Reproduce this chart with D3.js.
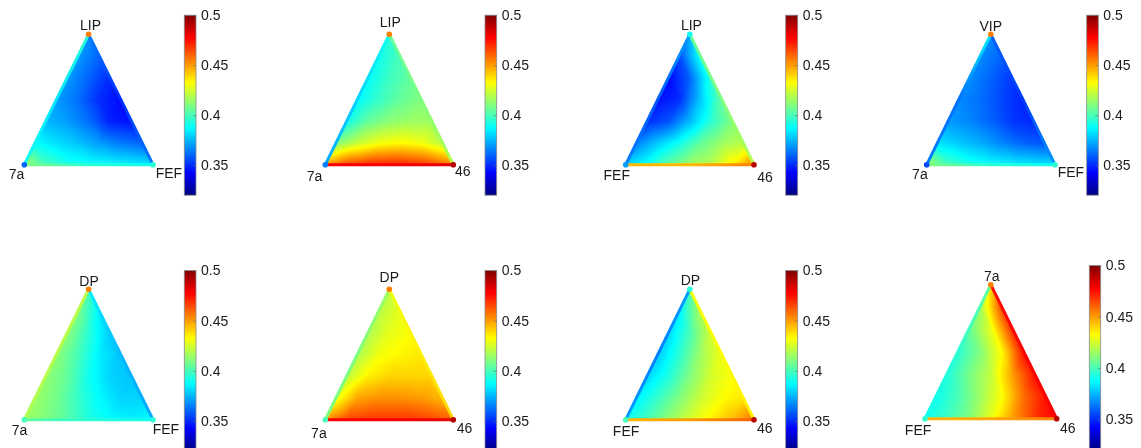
<!DOCTYPE html>
<html><head><meta charset="utf-8">
<script src="https://cdn.jsdelivr.net/npm/d3@7"></script>
<style>html,body{margin:0;padding:0;background:#fff;overflow:hidden}</style>
</head><body>
<div id="chart"></div>
<script>
// ---------------- DATA ----------------
const apexLabels  = ["LIP","LIP","LIP","VIP","DP","DP","DP","7a"];
const leftLabels  = ["7a","7a","FEF","7a","7a","7a","FEF","FEF"];
const rightLabels = ["FEF","46","46","FEF","FEF","46","46","46"];
const colorTicks  = [0.35, 0.4, 0.45, 0.5];
const colorDomain = [0.32, 0.5];
// vertex values: [apex, left, right]
const vertexValues = [
  [0.455,0.360,0.395],[0.455,0.365,0.490],[0.390,0.370,0.490],[0.455,0.355,0.395],
  [0.455,0.400,0.395],[0.455,0.400,0.490],[0.395,0.400,0.490],[0.455,0.395,0.490]
];
// edge values: left edge (left vertex -> apex), right edge (apex -> right vertex), base (left -> right)
const leftEdgeValues = [
  [0.390,0.383,0.395],[0.372,0.380,0.390],[0.365,0.358,0.370],[0.365,0.362,0.385],
  [0.418,0.420,0.420],[0.410,0.410,0.415],[0.370,0.365,0.370],[0.390,0.395,0.405]
];
const rightEdgeValues = [
  [0.365,0.350,0.365],[0.405,0.410,0.420],[0.405,0.410,0.420],[0.360,0.352,0.370],
  [0.385,0.375,0.372],[0.430,0.435,0.440],[0.430,0.432,0.435],[0.475,0.478,0.478]
];
const baseEdgeValues = [
  [0.410,0.395,0.390],[0.478,0.478,0.482],[0.445,0.445,0.455],[0.410,0.395,0.390],
  [0.405,0.395,0.390],[0.478,0.478,0.482],[0.445,0.450,0.460],[0.445,0.448,0.455]
];
// surface values, rows from apex (row 0) to base (row 6), left to right
const surfaceP1 = [
  [0.368],
  [0.370,0.360],
  [0.370,0.360,0.350],
  [0.370,0.362,0.350,0.344],
  [0.375,0.370,0.362,0.348,0.345],
  [0.388,0.382,0.377,0.370,0.364,0.360],
  [0.418,0.400,0.392,0.389,0.387,0.385,0.383]
];
const surfaceP2 = [
  [0.395],
  [0.390,0.400],
  [0.388,0.398,0.405],
  [0.387,0.397,0.405,0.410],
  [0.390,0.405,0.412,0.415,0.415],
  [0.410,0.422,0.430,0.433,0.430,0.420],
  [0.450,0.465,0.470,0.472,0.470,0.465,0.455]
];
const surfaceP3 = [
  [0.375],
  [0.355,0.390],
  [0.343,0.360,0.395],
  [0.345,0.350,0.378,0.405],
  [0.350,0.357,0.375,0.395,0.410],
  [0.365,0.378,0.390,0.405,0.415,0.420],
  [0.380,0.390,0.405,0.415,0.420,0.435,0.455]
];
const surfaceP4 = [
  [0.368],
  [0.367,0.360],
  [0.367,0.360,0.352],
  [0.367,0.362,0.355,0.349],
  [0.370,0.366,0.360,0.352,0.349],
  [0.383,0.378,0.373,0.366,0.360,0.357],
  [0.418,0.400,0.392,0.388,0.385,0.383,0.382]
];
const surfaceP5 = [
  [0.400],
  [0.410,0.385],
  [0.412,0.395,0.378],
  [0.412,0.400,0.385,0.377],
  [0.413,0.405,0.390,0.380,0.377],
  [0.415,0.408,0.397,0.387,0.380,0.380],
  [0.415,0.410,0.403,0.393,0.387,0.385,0.387]
];
const surfaceP6 = [
  [0.420],
  [0.420,0.428],
  [0.418,0.428,0.432],
  [0.418,0.430,0.434,0.436],
  [0.420,0.435,0.440,0.440,0.440],
  [0.428,0.448,0.452,0.452,0.450,0.445],
  [0.450,0.465,0.468,0.468,0.468,0.465,0.460]
];
const surfaceP7 = [
  [0.400],
  [0.385,0.418],
  [0.380,0.400,0.425],
  [0.378,0.395,0.415,0.430],
  [0.380,0.393,0.410,0.425,0.432],
  [0.385,0.397,0.410,0.423,0.432,0.437],
  [0.390,0.400,0.413,0.425,0.435,0.445,0.458]
];
const surfaceP8 = [
  [0.440],
  [0.415,0.465],
  [0.405,0.428,0.470],
  [0.395,0.410,0.433,0.475],
  [0.393,0.408,0.422,0.450,0.475],
  [0.390,0.400,0.415,0.432,0.458,0.475],
  [0.390,0.398,0.410,0.428,0.450,0.468,0.478]
];
const surfaces = [surfaceP1,surfaceP2,surfaceP3,surfaceP4,surfaceP5,surfaceP6,surfaceP7,surfaceP8];

// ---------------- LAYOUT ----------------
const W = 1141, H = 448;
const layout = [
  {ax:88.6, ay:34.3, lx:24.3, rx:153.0, by:164.7, cbx:184.3, cbw:11.7, cbTop:15.2, cbK:1000, t:[2,-4.8], l:[0,14.3], r:[2.7,13]},
  {ax:389.3,ay:34.3, lx:325.3,rx:453.3, by:164.7, cbx:485.0, cbw:11.7, cbTop:15.2, cbK:1000, t:[1,-7], l:[-3,16], r:[1.7,11]},
  {ax:689.8,ay:34.3, lx:625.7,rx:754.0, by:164.7, cbx:785.7, cbw:12.0, cbTop:15.2, cbK:1000, t:[1.6,-4.3], l:[4.3,15.3], r:[3.3,17]},
  {ax:990.8,ay:34.3, lx:926.7,rx:1055.0,by:164.7, cbx:1086.7,cbw:11.6, cbTop:15.2, cbK:1000, t:[0,-3.6], l:[1,14.3], r:[2.7,12]},
  {ax:88.6, ay:289.3,lx:24.3, rx:153.0, by:419.7, cbx:184.3, cbw:11.7, cbTop:270.5,cbK:1003, t:[0.5,-3.3], l:[3,15.3], r:[-0.3,14.6]},
  {ax:389.3,ay:289.3,lx:325.3,rx:453.3, by:419.7, cbx:485.0, cbw:11.7, cbTop:270.5,cbK:1003, t:[0,-7], l:[1.4,18.6], r:[3.4,13]},
  {ax:689.8,ay:289.3,lx:625.7,rx:754.0, by:419.7, cbx:785.7, cbw:12.0, cbTop:270.5,cbK:1003, t:[0.6,-4.3], l:[13.6,16.3], r:[3,13]},
  {ax:990.8,ay:284.7,lx:925.0,rx:1056.7,by:418.7, cbx:1089.3,cbw:11.4, cbTop:265.5,cbK:1026, t:[1,-4], l:[6.3,16.3], r:[3.3,14.6]}
];

// ---------------- COLOR ----------------
const tStops = [0, 1/8, 3/8, 5/8, 7/8, 1];
const jetColors = ["#000080","#0000ff","#00ffff","#ffff00","#ff0000","#800000"];
const color = d3.scaleLinear()
  .domain(tStops.map(t => colorDomain[0] + t*(colorDomain[1]-colorDomain[0])))
  .range(jetColors).interpolate(d3.interpolateRgb).clamp(true);

const N = 6;
function sample(g, u, s) {
  let i0 = Math.min(Math.floor(u), N-1); const fu = u - i0;
  let j0 = Math.min(Math.floor(s), i0); let fs = s - j0;
  if (fs < 0) fs = 0;
  const v00 = g[i0][j0], v10 = g[i0+1][j0], v11 = g[i0+1][j0+1];
  if (fs <= fu || j0 + 1 > i0) {
    return v00 + fu*(v10 - v00) + Math.min(fs,fu)*(v11 - v10);
  }
  const v01 = g[i0][j0+1];
  return v00 + fs*(v01 - v00) + fu*(v11 - v01);
}

// ---------------- DRAW ----------------
const container = d3.select("#chart").style("position","relative").style("width",W+"px").style("height",H+"px");
const canvas = container.append("canvas").attr("width",W).attr("height",H)
  .style("position","absolute").style("left","0px").style("top","0px");
const svg = container.append("svg").attr("width",W).attr("height",H)
  .style("position","absolute").style("left","0px").style("top","0px");

const ctx = canvas.node().getContext("2d");
ctx.fillStyle = "#fff"; ctx.fillRect(0,0,W,H);
const img = ctx.getImageData(0,0,W,H);
const cache = new Map();
function rgbOf(v) {
  const k = Math.round(v*4000);
  if (!cache.has(k)) { const c = d3.rgb(color(k/4000)); cache.set(k,[c.r,c.g,c.b]); }
  return cache.get(k);
}

layout.forEach((L, p) => {
  const g = surfaces[p];
  const x0 = Math.floor(Math.min(L.lx, L.ax)), x1 = Math.ceil(Math.max(L.rx, L.ax));
  const y0 = Math.floor(L.ay), y1 = Math.ceil(L.by);
  for (let y = y0; y <= y1; y++) {
    const py = y + 0.5;
    const f = (py - L.ay) / (L.by - L.ay);
    if (f < 0 || f > 1) continue;
    const lxp = L.ax + (L.lx - L.ax)*f, rxp = L.ax + (L.rx - L.ax)*f;
    const u = f*N;
    for (let x = x0; x <= x1; x++) {
      const px = x + 0.5;
      if (px < lxp || px > rxp) continue;
      const s = rxp > lxp ? (px - lxp)/(rxp - lxp)*u : 0;
      const c = rgbOf(sample(g, u, s));
      const idx = (y*W + x)*4;
      img.data[idx] = c[0]; img.data[idx+1] = c[1]; img.data[idx+2] = c[2]; img.data[idx+3] = 255;
    }
  }
});
ctx.putImageData(img, 0, 0);

const defs = svg.append("defs");
// colorbar gradient
const cbGrad = defs.append("linearGradient").attr("id","jetbar")
  .attr("x1",0).attr("y1",1).attr("x2",0).attr("y2",0);
d3.range(0, 65).forEach(k => {
  const t = k/64;
  cbGrad.append("stop").attr("offset", t)
    .attr("stop-color", color(colorDomain[0] + t*(colorDomain[1]-colorDomain[0])));
});

const textColor = "#1a1a1a";
const font = "'Liberation Sans', Arial, Helvetica, sans-serif";

layout.forEach((L, p) => {
  const gp = svg.append("g");
  const A = [L.ax, L.ay], Lv = [L.lx, L.by], R = [L.rx, L.by];
  const edges = [
    {a: Lv, b: A, vals: leftEdgeValues[p]},
    {a: A, b: R, vals: rightEdgeValues[p]},
    {a: Lv, b: R, vals: baseEdgeValues[p]}
  ];
  edges.forEach((e, ei) => {
    const id = `edge${p}_${ei}`;
    const gr = defs.append("linearGradient").attr("id", id).attr("gradientUnits","userSpaceOnUse")
      .attr("x1", e.a[0]).attr("y1", e.a[1]).attr("x2", e.b[0]).attr("y2", e.b[1]);
    e.vals.forEach((v, k) => gr.append("stop").attr("offset", k/(e.vals.length-1)).attr("stop-color", color(v)));
    gp.append("line").attr("x1", e.a[0]).attr("y1", e.a[1]).attr("x2", e.b[0]).attr("y2", e.b[1])
      .attr("stroke", `url(#${id})`).attr("stroke-width", 3);
  });
  // vertex dots
  [A, Lv, R].forEach((pt, k) => {
    gp.append("circle").attr("cx", pt[0]).attr("cy", pt[1]).attr("r", 2.8)
      .attr("fill", color(vertexValues[p][k]));
  });
  // vertex labels
  gp.append("text").attr("x", L.ax + L.t[0]).attr("y", L.ay + L.t[1]).attr("text-anchor","middle")
    .attr("font-family", font).attr("font-size", 14).attr("fill", textColor).text(apexLabels[p]);
  gp.append("text").attr("x", L.lx + L.l[0]).attr("y", L.by + L.l[1]).attr("text-anchor","end")
    .attr("font-family", font).attr("font-size", 14).attr("fill", textColor).text(leftLabels[p]);
  gp.append("text").attr("x", L.rx + L.r[0]).attr("y", L.by + L.r[1]).attr("text-anchor","start")
    .attr("font-family", font).attr("font-size", 14).attr("fill", textColor).text(rightLabels[p]);

  // colorbar
  const yS = d3.scaleLinear().domain(colorDomain)
    .range([L.cbTop + (colorDomain[1]-colorDomain[0])*L.cbK, L.cbTop]);
  const cb = svg.append("g");
  cb.append("rect").attr("x", L.cbx).attr("y", yS(colorDomain[1]))
    .attr("width", L.cbw).attr("height", yS(colorDomain[0]) - yS(colorDomain[1]))
    .attr("fill", "url(#jetbar)").attr("stroke", "#8a8a8a").attr("stroke-width", 0.8);
  const axis = d3.axisRight(yS).tickValues(colorTicks).tickSize(-3).tickPadding(8)
    .tickFormat(d => String(+d.toFixed(2)));
  const ax = cb.append("g").attr("transform", `translate(${L.cbx + L.cbw},0)`).call(axis);
  ax.select(".domain").remove();
  ax.selectAll(".tick line").attr("stroke", "#6a6a6a").attr("stroke-width", 0.6);
  ax.selectAll(".tick text").attr("font-family", font).attr("font-size", 14).attr("fill", textColor).attr("x", 5);
});
</script>
</body></html>
